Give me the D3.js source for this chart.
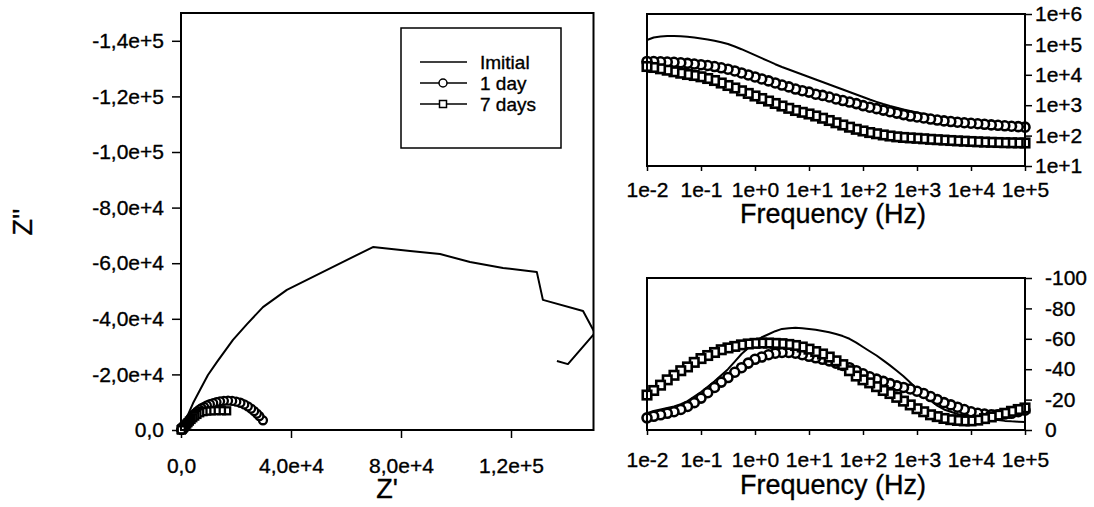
<!DOCTYPE html>
<html>
<head>
<meta charset="utf-8">
<script src="https://cdn.jsdelivr.net/npm/d3@7"></script>
<style>
  body { margin: 0; background: #fff; }
  svg { display: block; font-family: "Liberation Sans", Arial, sans-serif; }
  text { fill: #000; stroke: #000; stroke-width: 0.35px; }
  .tick text { font-size: 21px; }
  .tick line { stroke: #000; stroke-width: 1.5; }
  .title { font-size: 27px; }
</style>
</head>
<body>
<svg id="fig" width="1094" height="507"></svg>
<script>
// ---- Nyquist data (Z', Z'') ----
const nyqInitialRe = [0, 1100, 2200, 4400, 6900, 9800, 13100, 18900, 24000, 29800, 38500, 60400, 69800, 83300, 94200, 105100, 117100, 129400, 131600, 146200, 150500, 140700, 136700];
const nyqInitialIm = [0, -2200, -4700, -9700, -14400, -19800, -24500, -32400, -38100, -44200, -50400, -61200, -65800, -64400, -63300, -60400, -58300, -56800, -46800, -42800, -34900, -23700, -24800];

const nyq1DayRe = [120, 150, 190, 240, 300, 380, 480, 600, 750, 930, 1150, 1400, 1700, 2050, 2450, 2900, 3400, 3950, 4550, 5200, 5900, 6700, 7500, 8400, 9400, 10500, 11700, 12900, 14200, 15600, 17100, 18600, 20100, 21600, 23000, 24300, 25500, 26600, 27600, 28500, 29800];
const nyq1DayIm = [-50, -70, -100, -140, -190, -260, -350, -470, -620, -820, -1080, -1400, -1800, -2300, -2850, -3450, -4100, -4800, -5450, -6100, -6700, -7300, -7850, -8350, -8850, -9300, -9700, -10050, -10300, -10500, -10550, -10450, -10200, -9800, -9200, -8500, -7700, -6800, -5900, -5000, -3500];

const nyq7DaysRe = [100, 130, 170, 220, 280, 360, 460, 580, 730, 910, 1130, 1400, 1720, 2100, 2550, 3050, 3650, 4300, 5000, 5800, 6800, 8000, 9400, 11000, 12800, 14700, 16600];
const nyq7DaysIm = [-70, -100, -140, -190, -250, -330, -430, -550, -700, -880, -1120, -1400, -1750, -2150, -2650, -3200, -3800, -4400, -5000, -5600, -6200, -6600, -6800, -6900, -6950, -6950, -6900];

// ---- Bode data ----
const freq = [0.01, 0.0133, 0.0178, 0.0237, 0.0316, 0.0422, 0.0562, 0.075,
  0.1, 0.133, 0.178, 0.237, 0.316, 0.422, 0.562, 0.75,
  1, 1.33, 1.78, 2.37, 3.16, 4.22, 5.62, 7.5,
  10, 13.3, 17.8, 23.7, 31.6, 42.2, 56.2, 75,
  100, 133, 178, 237, 316, 422, 562, 750,
  1000, 1330, 1780, 2370, 3160, 4220, 5620, 7500,
  10000, 13300, 17800, 23700, 31600, 42200, 56200, 75000,
  100000];

const modInitial = [139600, 168700, 181900, 188900, 188900, 186000, 177800, 168700,
  156300, 144900, 131300, 117200, 103100, 85300, 69500, 55400,
  44100, 35200, 28000, 22300, 18100, 14900, 12400, 10230,
  8470, 7000, 5800, 4800, 3970, 3280, 2720, 2250,
  1860, 1540, 1290, 1090, 940, 820, 720, 645,
  575, 514, 466, 425, 394, 368, 346, 328,
  314, 302, 291, 280, 272, 264, 256, 248,
  241];
const mod1Day = [27500, 27300, 26800, 26400, 25800, 24900, 23800, 22600,
  21500, 20200, 18700, 17000, 15300, 13400, 11500, 9900,
  8500, 7300, 6300, 5400, 4600, 4000, 3400, 3000,
  2700, 2300, 2100, 1860, 1600, 1420, 1270, 1130,
  970, 860, 770, 690, 610, 550, 490, 440,
  410, 380, 350, 325, 305, 290, 275, 265,
  255, 245, 235, 225, 218, 210, 203, 197,
  190];
const mod7Days = [18750, 17400, 15750, 14170, 12560, 11290, 10230, 9480,
  8590, 7550, 6490, 5370, 4450, 3680, 2980, 2440,
  2010, 1660, 1370, 1140, 940, 790, 670, 583,
  514, 442, 373, 314, 264, 223, 189, 161,
  142, 126, 115, 105, 97, 91, 87, 84,
  81.5, 78.5, 75.5, 73.3, 71.1, 69, 67, 65.5,
  64, 62.5, 61.1, 60.2, 59.3, 58.4, 58, 57.5,
  57.1];

const phaseInitial = [-11, -12.5, -13.5, -14.5, -15.5, -17, -19, -22,
  -25, -28.5, -32, -36, -40, -45, -50, -54,
  -58, -61, -63, -65, -66.5, -67, -67.2, -67,
  -66.5, -66, -65.2, -64.3, -63.2, -61.8, -60, -57.5,
  -54.6, -51.8, -49, -45.8, -42.5, -39, -35.3, -31.3,
  -27, -23, -19.5, -16, -13.5, -12, -10.5, -9.5,
  -8.6, -8, -7.5, -7, -6.5, -6, -5.7, -5.5,
  -5.3];
const phase1Day = [-8, -9, -10, -11, -12, -13.5, -15.5, -18,
  -21, -24.5, -28, -31.5, -34.5, -38, -41, -44,
  -46.5, -48, -49.5, -50.5, -51, -51, -50.5, -49.5,
  -48.5, -47.5, -46.5, -45.5, -44, -42.5, -41, -39,
  -37, -35, -33.5, -32, -30.5, -29, -28, -27,
  -25.5, -24, -22, -20, -18, -16.5, -15, -13.5,
  -12, -11, -10.5, -10, -10, -10.5, -11, -12,
  -13];
const phase7Days = [-23, -26, -29.5, -33, -36, -39, -41.5, -44.5,
  -47, -49, -51, -52.8, -54, -55, -56, -56.6,
  -57, -57.2, -57.2, -57, -56.8, -56.3, -55.6, -54.6,
  -53.2, -51.6, -50, -48, -45.5, -43, -39, -35.5,
  -33, -31, -28.5, -26, -24, -21.5, -19, -16.5,
  -14, -12, -10, -8.8, -7.6, -6.8, -6.3, -6,
  -6, -6.5, -7.5, -8.6, -9.8, -11, -12.3, -13.5,
  -14.5];

// ---- tick values / labels ----
const nyqXTicks = [0, 40000, 80000, 120000];
const nyqYTicks = [0, -20000, -40000, -60000, -80000, -100000, -120000, -140000];
const freqTicks = [0.01, 0.1, 1, 10, 100, 1000, 10000, 100000];
const modTicks = [10, 100, 1000, 10000, 100000, 1000000];
const phaseTicks = [0, -20, -40, -60, -80, -100];
const legendNames = ['Imitial', '1 day', '7 days'];

const svg = d3.select('#fig');

function sciComma(v) {
  if (v === 0) return '0,0';
  const e = Math.floor(Math.log10(Math.abs(v)) + 1e-9);
  const m = v / Math.pow(10, e);
  return m.toFixed(1).replace('.', ',') + 'e+' + e;
}
function expLabel(v) {
  const e = Math.round(Math.log10(v));
  return '1e' + (e < 0 ? '-' : '+') + Math.abs(e);
}

function drawMarkers(g, xs, ys, x, y, kind, size, sw) {
  const pts = d3.zip(xs, ys).reverse(); // high frequency first, like the scan
  if (kind === 'circle') {
    g.selectAll(null).data(pts).enter().append('circle')
      .attr('cx', d => x(d[0])).attr('cy', d => y(d[1]))
      .attr('r', size)
      .attr('fill', '#fff').attr('stroke', '#000').attr('stroke-width', sw);
  } else {
    g.selectAll(null).data(pts).enter().append('rect')
      .attr('x', d => x(d[0]) - size / 2).attr('y', d => y(d[1]) - size / 2)
      .attr('width', size).attr('height', size)
      .attr('fill', '#fff').attr('stroke', '#000').attr('stroke-width', sw);
  }
}

function drawLine(g, xs, ys, x, y) {
  g.append('path')
    .datum(d3.zip(xs, ys))
    .attr('fill', 'none').attr('stroke', '#000').attr('stroke-width', 2)
    .attr('stroke-linejoin', 'round')
    .attr('d', d3.line().x(d => x(d[0])).y(d => y(d[1])));
}

function frame(x0, y0, x1, y1) {
  svg.append('rect')
    .attr('x', x0).attr('y', y0).attr('width', x1 - x0).attr('height', y1 - y0)
    .attr('fill', 'none').attr('stroke', '#000').attr('stroke-width', 2);
}

// ================= Nyquist =================
const nx = d3.scaleLinear().domain([0, 150000]).range([181, 593.5]);
const ny = d3.scaleLinear().domain([0, -150000]).range([430, 13]);

svg.append('clipPath').attr('id', 'nyqClip')
  .append('rect').attr('x', 181).attr('y', 13).attr('width', 412.5).attr('height', 417);

svg.append('g').attr('transform', 'translate(0,430)')
  .call(d3.axisBottom(nx).tickValues(nyqXTicks).tickFormat(sciComma).tickSize(8).tickPadding(20).tickSizeOuter(0))
  .call(g => g.select('.domain').remove());
svg.append('g').attr('transform', 'translate(181,0)')
  .call(d3.axisLeft(ny).tickValues(nyqYTicks).tickFormat(sciComma).tickSize(9).tickPadding(8).tickSizeOuter(0))
  .call(g => g.select('.domain').remove());

const nyqG = svg.append('g').attr('clip-path', 'url(#nyqClip)');
drawLine(nyqG, nyqInitialRe, nyqInitialIm, nx, ny);
drawMarkers(svg.append('g'), nyq1DayRe, nyq1DayIm, nx, ny, 'circle', 4, 2.3);
drawMarkers(svg.append('g'), nyq7DaysRe, nyq7DaysIm, nx, ny, 'square', 7, 2.3);
frame(181, 13, 593.5, 430);

svg.append('text').attr('class', 'title').attr('x', 387).attr('y', 498)
  .attr('text-anchor', 'middle').text("Z'");
svg.append('text').attr('class', 'title')
  .attr('transform', 'translate(32,222) rotate(-90)')
  .attr('text-anchor', 'middle').text("Z''");

// legend
svg.append('rect').attr('x', 401).attr('y', 28).attr('width', 160).attr('height', 120)
  .attr('fill', '#fff').attr('stroke', '#000').attr('stroke-width', 1.5);
legendNames.forEach((name, i) => {
  const yy = 62 + i * 21;
  svg.append('line').attr('x1', 420).attr('x2', 467).attr('y1', yy).attr('y2', yy)
    .attr('stroke', '#000').attr('stroke-width', 1.5);
  if (i === 1) {
    svg.append('circle').attr('cx', 443).attr('cy', yy).attr('r', 4)
      .attr('fill', '#fff').attr('stroke', '#000').attr('stroke-width', 1.5);
  } else if (i === 2) {
    svg.append('rect').attr('x', 439.5).attr('y', yy - 3.5).attr('width', 7).attr('height', 7)
      .attr('fill', '#fff').attr('stroke', '#000').attr('stroke-width', 1.5);
  }
  svg.append('text').attr('x', 480).attr('y', yy + 7)
    .style('font-size', '19px').text(name);
});

// ================= Bode |Z| =================
const fx = d3.scaleLog().domain([0.01, 100000]).range([647, 1025]);
const my = d3.scaleLog().domain([10, 1000000]).range([166, 14]);

svg.append('g').attr('transform', 'translate(0,166)')
  .call(d3.axisBottom(fx).tickValues(freqTicks).tickFormat(expLabel).tickSize(5).tickPadding(11).tickSizeOuter(0))
  .call(g => g.select('.domain').remove());
svg.append('g').attr('transform', 'translate(1025,0)')
  .call(d3.axisRight(my).tickValues(modTicks).tickFormat(expLabel).tickSize(7).tickPadding(3).tickSizeOuter(0))
  .call(g => g.select('.domain').remove());

const modG = svg.append('g');
drawLine(modG, freq, modInitial, fx, my);
drawMarkers(modG, freq, mod1Day, fx, my, 'circle', 4.5, 2.6);
drawMarkers(modG, freq, mod7Days, fx, my, 'square', 8.5, 2.6);
frame(647, 14, 1025, 166);

svg.append('text').attr('class', 'title').attr('x', 833).attr('y', 223)
  .attr('text-anchor', 'middle').text('Frequency (Hz)');

// ================= Bode phase =================
const py = d3.scaleLinear().domain([0, -100]).range([430, 278]);

svg.append('g').attr('transform', 'translate(0,430)')
  .call(d3.axisBottom(fx).tickValues(freqTicks).tickFormat(expLabel).tickSize(5).tickPadding(17).tickSizeOuter(0))
  .call(g => g.select('.domain').remove());
svg.append('g').attr('transform', 'translate(1025,0)')
  .call(d3.axisRight(py).tickValues(phaseTicks).tickFormat(d => String(d)).tickSize(7).tickPadding(13).tickSizeOuter(0))
  .call(g => g.select('.domain').remove());

const phG = svg.append('g');
drawLine(phG, freq, phaseInitial, fx, py);
drawMarkers(phG, freq, phase1Day, fx, py, 'circle', 4.5, 2.6);
drawMarkers(phG, freq, phase7Days, fx, py, 'square', 8.5, 2.6);
frame(647, 278, 1025, 430);

svg.append('text').attr('class', 'title').attr('x', 833).attr('y', 494)
  .attr('text-anchor', 'middle').text('Frequency (Hz)');
</script>
</body>
</html>
